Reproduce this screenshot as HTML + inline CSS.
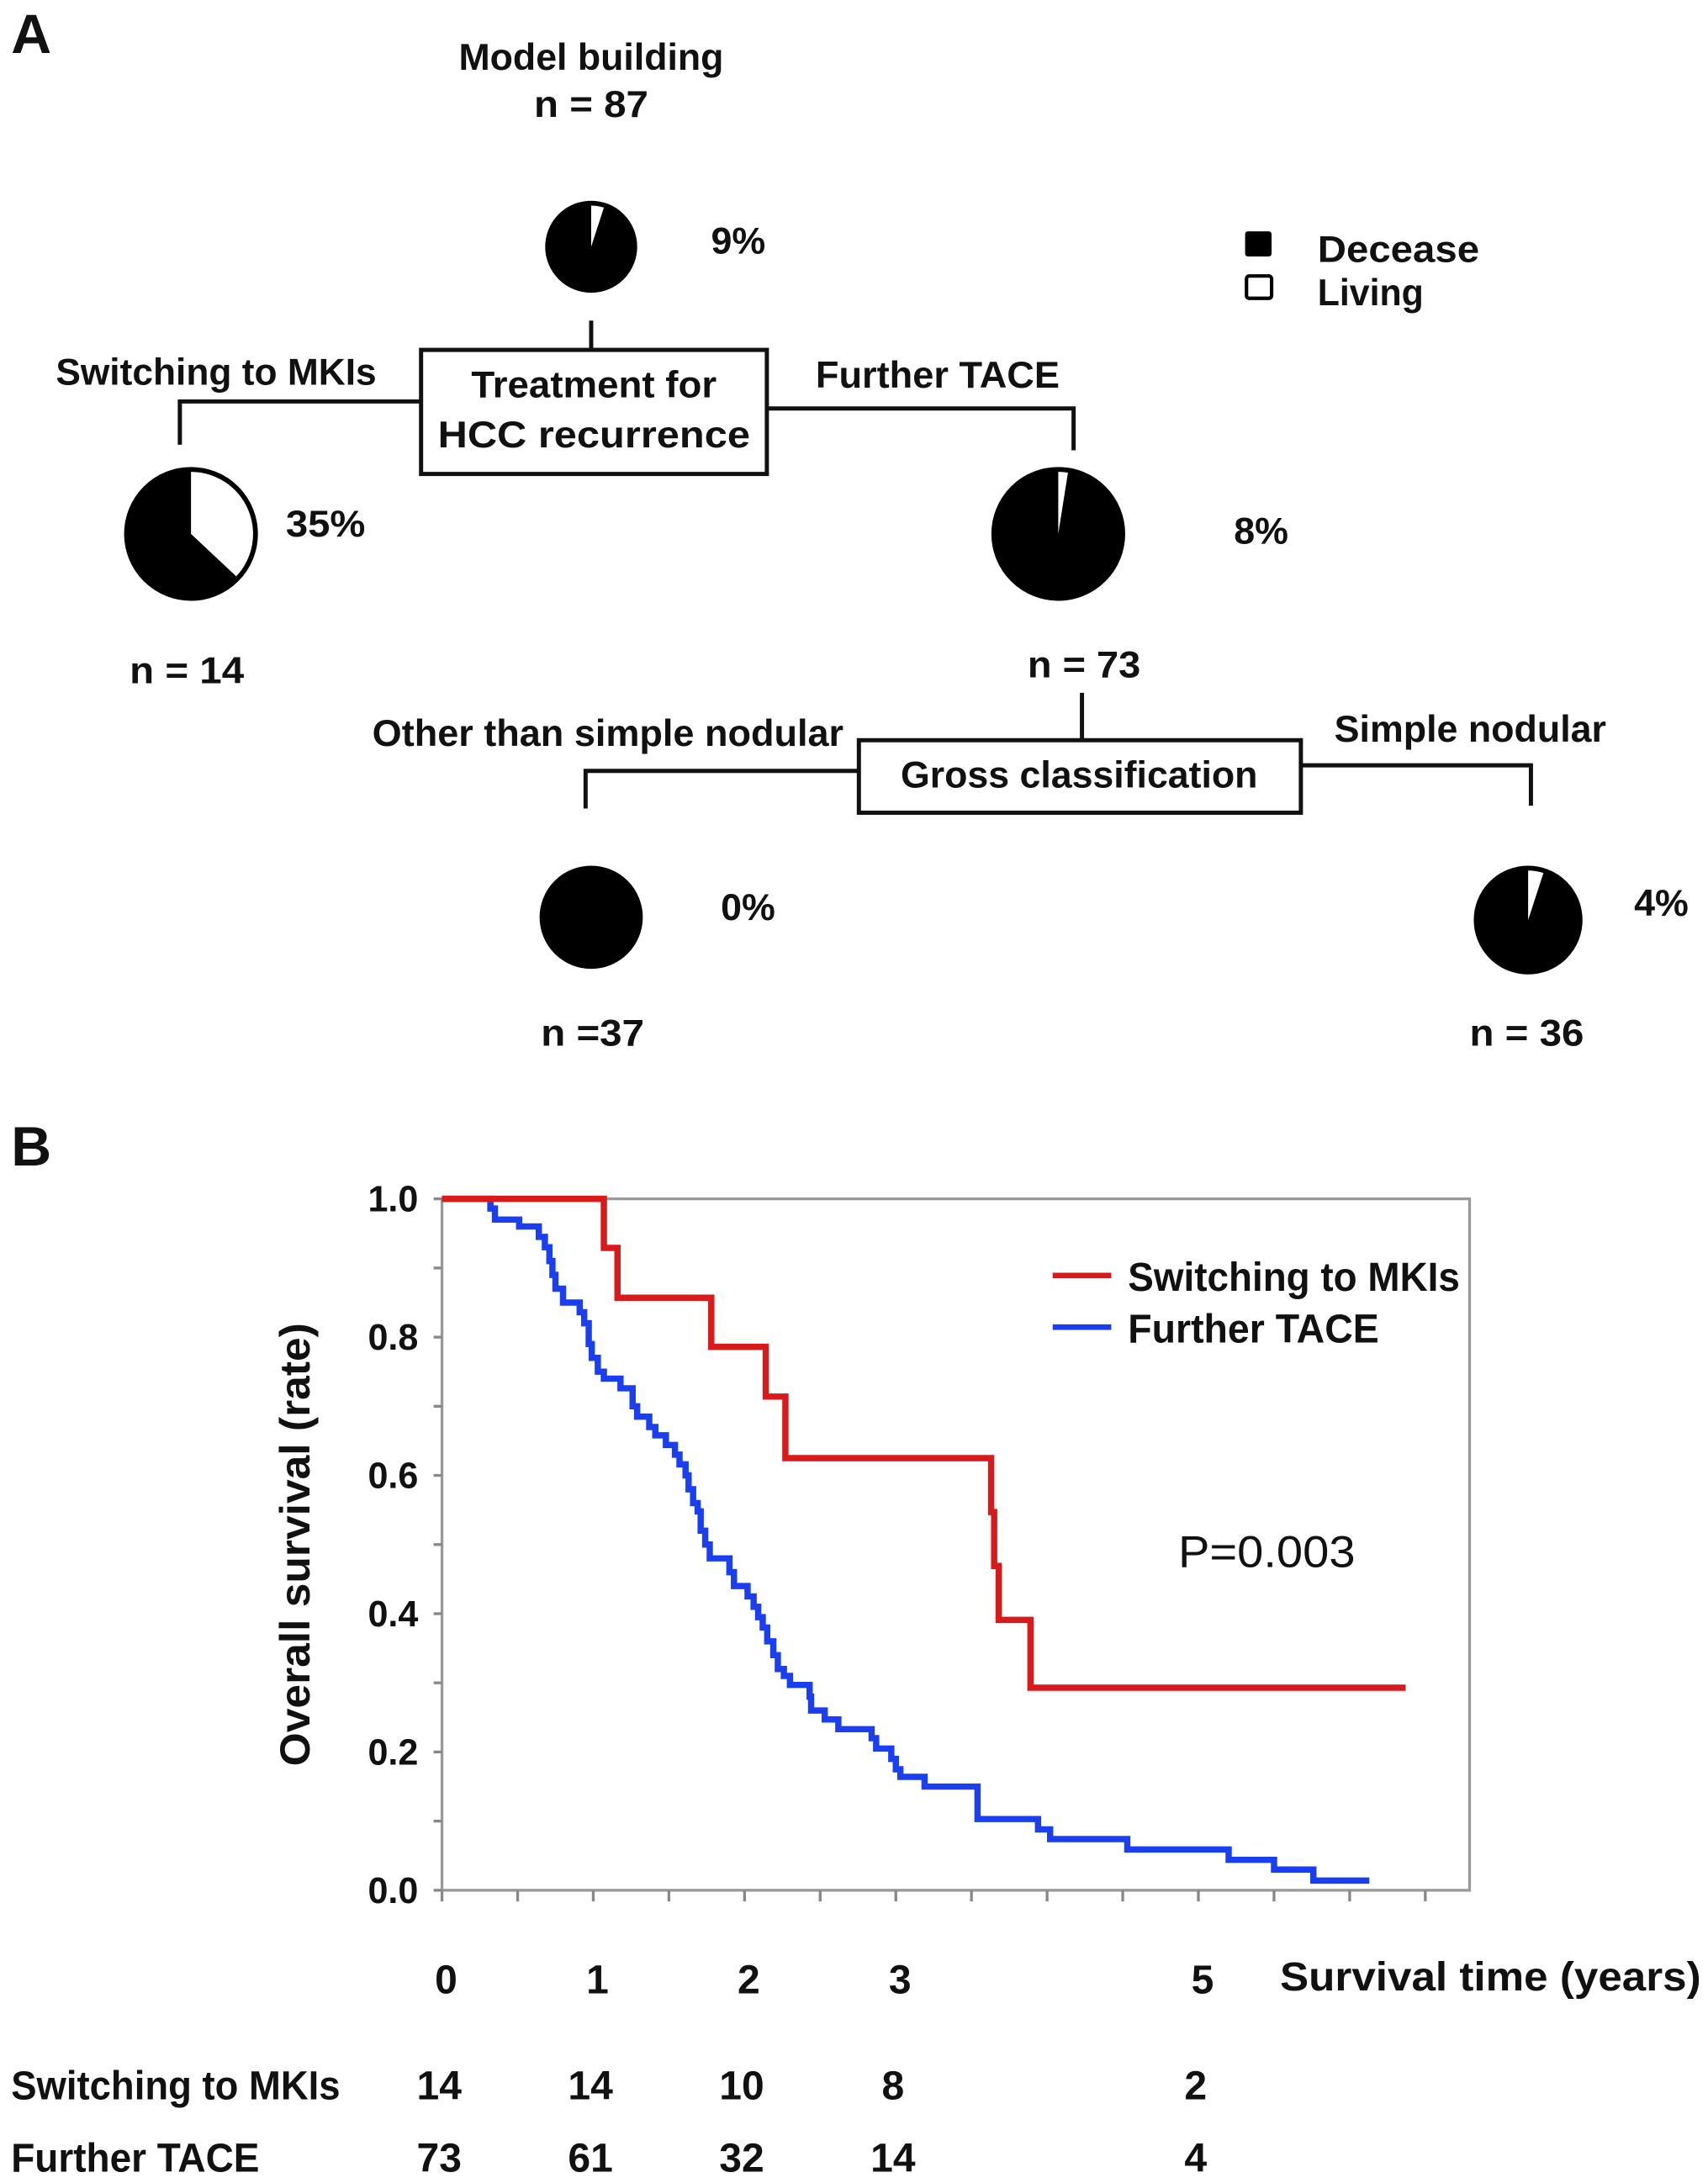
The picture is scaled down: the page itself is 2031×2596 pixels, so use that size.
<!DOCTYPE html>
<html><head><meta charset="utf-8">
<style>
html,body{margin:0;padding:0;background:#fff;}
svg{display:block;}
text{font-family:"Liberation Sans Narrow","Liberation Sans",sans-serif;font-weight:bold;fill:#111;}
.w{font-family:"Liberation Sans",sans-serif;}
</style></head>
<body>
<svg id="fig" width="2031" height="2596" viewBox="0 0 1225 1566" preserveAspectRatio="none" xmlns="http://www.w3.org/2000/svg">
<g>
<text x="8" y="38" font-size="40" class="w">A</text>
<text x="424" y="50" font-size="27" text-anchor="middle" textLength="190" lengthAdjust="spacingAndGlyphs">Model building</text>
<text x="424" y="84" font-size="27" text-anchor="middle" textLength="82" lengthAdjust="spacingAndGlyphs">n = 87</text>
<g id="pies"></g>
<text x="510" y="182" font-size="27">9%</text>
<rect x="893" y="166" width="19" height="18" rx="2" fill="#000"/>
<rect x="894" y="198" width="18" height="16" rx="2" fill="#fff" stroke="#000" stroke-width="2.5"/>
<text x="945" y="188" font-size="27" class="w" textLength="116" lengthAdjust="spacingAndGlyphs">Decease</text>
<text x="945" y="219" font-size="27" class="w" textLength="76" lengthAdjust="spacingAndGlyphs">Living</text>
<g fill="none" stroke="#111" stroke-width="3">
<path d="M424 230V250"/>
<rect x="302" y="251" width="248" height="89"/>
<path d="M302 288H129V319"/>
<path d="M550 293H770V323"/>
<path d="M776 497V531"/>
<rect x="616" y="531" width="317" height="52"/>
<path d="M616 553H420V580"/>
<path d="M933 549H1098V578"/>
</g>
<text x="426" y="285" font-size="27" text-anchor="middle" textLength="176" lengthAdjust="spacingAndGlyphs">Treatment for</text>
<text x="426" y="321" font-size="27" text-anchor="middle" textLength="224" lengthAdjust="spacingAndGlyphs">HCC recurrence</text>
<text x="40" y="276" font-size="27" textLength="230" lengthAdjust="spacingAndGlyphs">Switching to MKIs</text>
<text x="585" y="278" font-size="27" textLength="175" lengthAdjust="spacingAndGlyphs">Further TACE</text>
<text x="205" y="385" font-size="27" textLength="57" lengthAdjust="spacingAndGlyphs">35%</text>
<text x="885" y="390" font-size="27">8%</text>
<text x="93" y="490" font-size="27" textLength="82" lengthAdjust="spacingAndGlyphs">n = 14</text>
<text x="737" y="486" font-size="27" textLength="81" lengthAdjust="spacingAndGlyphs">n = 73</text>
<text x="774" y="565" font-size="27" text-anchor="middle" textLength="256" lengthAdjust="spacingAndGlyphs">Gross classification</text>
<text x="267" y="535" font-size="27" textLength="338" lengthAdjust="spacingAndGlyphs">Other than simple nodular</text>
<text x="957" y="532" font-size="27" textLength="195" lengthAdjust="spacingAndGlyphs">Simple nodular</text>
<text x="517" y="660" font-size="27">0%</text>
<text x="1172" y="657" font-size="27">4%</text>
<text x="388" y="750" font-size="27" textLength="74" lengthAdjust="spacingAndGlyphs">n =37</text>
<text x="1054" y="750" font-size="27" textLength="82" lengthAdjust="spacingAndGlyphs">n = 36</text>
</g>
<g>
<text x="8" y="836" font-size="40" class="w">B</text>
<rect x="317" y="860" width="737" height="496" fill="none" stroke="#999" stroke-width="2"/>
<g id="axes"></g>
<g id="curves"></g>
<text transform="translate(222,1108) rotate(-90)" font-size="30" text-anchor="middle" class="w" textLength="318" lengthAdjust="spacingAndGlyphs">Overall survival (rate)</text>
<line x1="755" y1="915" x2="797" y2="915" stroke="#d91a1a" stroke-width="4"/>
<line x1="755" y1="952" x2="797" y2="952" stroke="#1a3ff0" stroke-width="4"/>
<text x="809" y="926" font-size="29" textLength="238" lengthAdjust="spacingAndGlyphs">Switching to MKIs</text>
<text x="809" y="963" font-size="29" textLength="180" lengthAdjust="spacingAndGlyphs">Further TACE</text>
<text x="845" y="1124" font-size="32" style="font-weight:normal" textLength="127" lengthAdjust="spacingAndGlyphs">P=0.003</text>
<text x="918" y="1428" font-size="29" textLength="302" lengthAdjust="spacingAndGlyphs">Survival time (years)</text>
<text x="8" y="1506" font-size="29" textLength="236" lengthAdjust="spacingAndGlyphs">Switching to MKIs</text>
<text x="8" y="1558" font-size="29" textLength="178" lengthAdjust="spacingAndGlyphs">Further TACE</text>
<g id="risk"></g>
</g>
</svg>
<script>
var NS="http://www.w3.org/2000/svg";
// pie data: living fraction
var pieNames=["pie-top","pie-left","pie-right","pie-bottom-left","pie-bottom-right"];
var pieLiving=[0.05,0.37,0.025,0,0.05];
var pieCx=[424,137,759,424,1096], pieCy=[177,383,383,658,660], pieR=[32,47,47,36,38];
// survival data
var redT=[0,1.07,1.16,1.78,2.14,2.27,3.63,3.65,3.68,3.89,6.37];
var redS=[1,0.929,0.857,0.786,0.714,0.625,0.547,0.469,0.391,0.293,0.293];
var blueT=[0,0.32,0.35,0.51,0.64,0.68,0.71,0.73,0.75,0.80,0.91,0.94,0.97,0.99,1.03,1.07,1.18,1.26,1.29,1.37,1.41,1.48,1.54,1.57,1.61,1.63,1.66,1.69,1.71,1.74,1.77,1.90,1.93,2.02,2.06,2.09,2.12,2.15,2.19,2.22,2.26,2.30,2.43,2.44,2.53,2.62,2.84,2.87,2.97,3.00,3.03,3.19,3.54,3.94,4.02,4.53,5.20,5.50,5.76,6.13];
var blueS=[1,0.986,0.97,0.96,0.945,0.93,0.91,0.89,0.87,0.85,0.836,0.82,0.79,0.77,0.75,0.74,0.726,0.70,0.685,0.67,0.658,0.644,0.63,0.616,0.60,0.58,0.56,0.548,0.52,0.50,0.48,0.46,0.44,0.425,0.41,0.395,0.38,0.36,0.34,0.32,0.31,0.297,0.28,0.26,0.247,0.233,0.22,0.205,0.19,0.175,0.164,0.15,0.103,0.088,0.074,0.059,0.044,0.03,0.014,0.014];
var yTicks=[0,0.2,0.4,0.6,0.8,1.0];
var yTickLabels=["0.0","0.2","0.4","0.6","0.8","1.0"];
var xTickYears=[0,1,2,3,5];
var xTickLabels=["0","1","2","3","5"];
var riskSwitching=["14","14","10","8","2"];
var riskTace=["73","61","32","14","4"];

function X(t){return 317+t*108.5;}
function Y(s){return 1356-s*496;}
function mk(tag,attrs,parent){var e=document.createElementNS(NS,tag);for(var k in attrs)e.setAttribute(k,attrs[k]);parent.appendChild(e);return e;}

var pies=document.getElementById("pies");
for(var i=0;i<pieNames.length;i++){
  var g=mk("g",{},pies);
  
  
  var c=mk("circle",{cx:pieCx[i],cy:pieCy[i],r:pieR[i],fill:"#000",stroke:"#000","stroke-width":2},g);
  
  
  if(pieLiving[i]>0){
    var a=pieLiving[i]*2*Math.PI, r=pieR[i]-2.5;
    var x1=pieCx[i], y1=pieCy[i]-r, x2=pieCx[i]+r*Math.sin(a), y2=pieCy[i]-r*Math.cos(a);
    var p=mk("path",{d:"M"+pieCx[i]+" "+pieCy[i]+"L"+x1+" "+y1+"A"+r+" "+r+" 0 "+(a>Math.PI?1:0)+" 1 "+x2+" "+y2+"Z",fill:"#fff"},g);
    
    
  }
}

var axes=document.getElementById("axes");
for(var v=0;v<=10;v++){
  var tk=mk("line",{x1:311,x2:317,y1:Y(v/10),y2:Y(v/10),stroke:"#888","stroke-width":2},axes);
  
  
}
for(var i=0;i<yTicks.length;i++){
  var t=mk("text",{x:300,y:Y(yTicks[i])+9,"font-size":26,"text-anchor":"end"},axes);
  t.textContent=yTickLabels[i];
  
  
}
for(var h=0;h<=13;h++){
  var tk=mk("line",{x1:X(h/2),x2:X(h/2),y1:1356,y2:1364,stroke:"#888","stroke-width":2},axes);
  
  
}
for(var i=0;i<xTickYears.length;i++){
  var t=mk("text",{x:X(xTickYears[i])+3,y:1430,"font-size":29,"text-anchor":"middle"},axes);
  t.textContent=xTickLabels[i];
  
  
}
var risk=document.getElementById("risk");
for(var i=0;i<xTickYears.length;i++){
  var a=mk("text",{x:X(xTickYears[i])-2,y:1506,"font-size":29,"text-anchor":"middle"},risk);
  a.textContent=riskSwitching[i];
  
  
  var b=mk("text",{x:X(xTickYears[i])-2,y:1558,"font-size":29,"text-anchor":"middle"},risk);
  b.textContent=riskTace[i];
  
  
}
function stepPath(T,S){
  var d="M"+X(T[0])+" "+Y(S[0]);
  for(var i=1;i<T.length;i++){d+="H"+X(T[i])+"V"+Y(S[i]);}
  return d;
}
var curves=document.getElementById("curves");
var bp=mk("path",{d:stepPath(blueT,blueS),fill:"none",stroke:"#1a3ff0","stroke-width":4.5},curves);


var rp=mk("path",{d:stepPath(redT,redS),fill:"none",stroke:"#d91a1a","stroke-width":4.5},curves);


</script>
</body></html>
